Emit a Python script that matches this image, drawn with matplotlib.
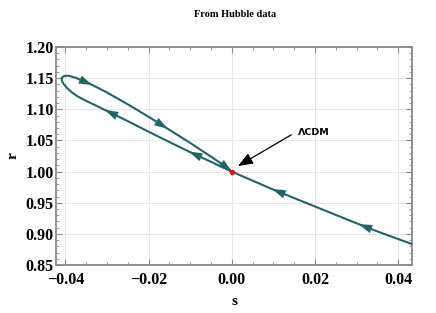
import matplotlib
matplotlib.use("Agg")
import matplotlib.pyplot as plt
from matplotlib.ticker import MultipleLocator, FuncFormatter

# trajectory, in time order:
# right branch -> fixed point -> lower loop branch -> tip -> upper loop branch -> fixed point
s_vals = [0.0440, 0.0350, 0.0305, 0.0200, 0.0097, 0.0050, 0.0,
          -0.0030, -0.0103, -0.0150, -0.0200, -0.0250, -0.0305, -0.0350,
          -0.0370, -0.0385, -0.0397, -0.0405, -0.0409, -0.0408, -0.0402,
          -0.0392, -0.0375,
          -0.0335, -0.0300, -0.0250, -0.0200, -0.0154, -0.0100, -0.0050,
          -0.0020, 0.0]
r_vals = [0.882, 0.904, 0.9157, 0.944, 0.9719, 0.9855, 1.000,
          1.0095, 1.0322, 1.0475, 1.064, 1.081, 1.099, 1.1135,
          1.1205, 1.1275, 1.135, 1.1415, 1.147, 1.151, 1.1535,
          1.1538, 1.1505,
          1.139, 1.127, 1.108, 1.088, 1.0688, 1.046, 1.024,
          1.0105, 1.000]
arrow_idx = [2, 4, 8, 12, 23, 27, 31]

fixed_s, fixed_r = 0.0, 1.0
label_text = "ΛCDM"
title_text = "From Hubble data"

line_col = "#216467"

fig = plt.figure(figsize=(4.36, 3.13), dpi=100)
ax = fig.add_axes([0.1284, 0.153, 0.8166, 0.697])

ax.grid(True, color="#e6e6e6", lw=0.7, zorder=0)
ax.plot(s_vals, r_vals, color=line_col, lw=1.5, zorder=3,
        solid_capstyle="round", solid_joinstyle="round")

for i in arrow_idx:
    ax.annotate("", xy=(s_vals[i], r_vals[i]), xytext=(s_vals[i - 1], r_vals[i - 1]),
                arrowprops=dict(arrowstyle="-|>,head_length=0.95,head_width=0.3",
                                color=line_col, lw=0.1, shrinkA=0, shrinkB=0),
                zorder=4)

ax.plot([fixed_s], [fixed_r], "o", color="red", ms=2.8, zorder=5)

ax.annotate("", xy=(0.0015, 1.009), xytext=(0.0143, 1.059),
            arrowprops=dict(arrowstyle="-|>,head_length=0.9,head_width=0.35",
                            color="black", lw=0.9, shrinkA=0, shrinkB=0), zorder=6)
ax.text(0.0158, 1.0627, label_text, fontsize=6.8, family="DejaVu Sans",
        ha="left", va="center", fontweight="semibold")

ax.set_xlim(-0.04224, 0.0433)
ax.set_ylim(0.85, 1.20)
ax.xaxis.set_major_locator(MultipleLocator(0.02))
ax.xaxis.set_minor_locator(MultipleLocator(0.005))
ax.yaxis.set_major_locator(MultipleLocator(0.05))
ax.yaxis.set_minor_locator(MultipleLocator(0.01))
ax.xaxis.set_major_formatter(FuncFormatter(lambda v, p: f"{v:.2f}".replace("-", "\u2212")))
ax.yaxis.set_major_formatter(FuncFormatter(lambda v, p: f"{v:.2f}"))

ax.tick_params(which="both", direction="in", top=True, right=True, color="#888888")
ax.tick_params(which="major", length=4, width=0.8)
ax.tick_params(axis="x", which="major", pad=5)
ax.tick_params(axis="y", which="major", pad=1.5)
ax.tick_params(which="minor", length=2, width=0.6)
for lab in ax.get_xticklabels() + ax.get_yticklabels():
    lab.set_family("Liberation Serif")
    lab.set_fontweight("bold")
    lab.set_fontsize(11.5)
for sp in ax.spines.values():
    sp.set_color("#888888")
    sp.set_linewidth(1.3)

ax.set_xlabel("s", family="Liberation Serif", fontweight="bold", fontsize=11, labelpad=5)
ax.set_ylabel("r", family="Liberation Serif", fontweight="bold", fontsize=11, labelpad=4)
fig.text(0.54, 0.955, title_text, family="Liberation Serif", fontweight="bold",
         fontsize=7.5, ha="center", va="center")

fig.savefig("out.png", dpi=100)
